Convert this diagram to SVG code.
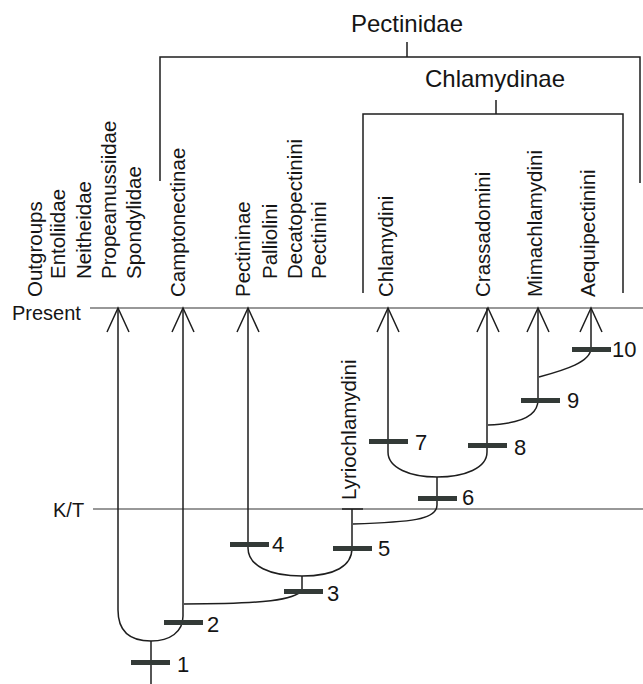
<svg xmlns="http://www.w3.org/2000/svg" width="643" height="684" viewBox="0 0 643 684">
<style>
text{font-family:"Liberation Sans",Arial,sans-serif;fill:#151515}
.lab{font-size:20.5px}
.big{font-size:24px}
.num{font-size:22px}
.ln{fill:none;stroke:#1e1e1e;stroke-width:1.5}
.thin{fill:none;stroke:#333;stroke-width:1.1}
.bar{fill:#333a37}
</style>
<rect width="643" height="684" fill="#fff"/>
<!-- time lines -->
<g id="timescale">
<text x="12" y="320" class="lab" style="font-size:20px">Present</text>
<path class="thin" d="M90 308H643"/>
<text x="53" y="517" class="lab" style="font-size:20px">K/T</text>
<path class="thin" d="M93 509H643"/>
</g>
<!-- clade brackets -->
<g id="pectinidae">
<text x="407" y="32" class="big" text-anchor="middle">Pectinidae</text>
<path class="ln" d="M407 42V57M160 181V57H640V183"/>
</g>
<g id="chlamydinae">
<text x="495" y="87" class="big" text-anchor="middle">Chlamydinae</text>
<path class="ln" d="M496 100V114M363 293V114H623V293"/>
</g>
<!-- taxon labels -->
<g id="outgroups" class="lab">
<text transform="translate(42 297) rotate(-90)">Outgroups</text>
<text transform="translate(65 279) rotate(-90)">Entoliidae</text>
<text transform="translate(91 279) rotate(-90)">Neitheidae</text>
<text transform="translate(116 279) rotate(-90)">Propeamussiidae</text>
<text transform="translate(141 279) rotate(-90)">Spondylidae</text>
</g>
<g id="camptonectinae" class="lab">
<text transform="translate(185 297) rotate(-90)">Camptonectinae</text>
</g>
<g id="pectininae" class="lab">
<text transform="translate(250 297) rotate(-90)">Pectininae</text>
<text transform="translate(277 279) rotate(-90)">Palliolini</text>
<text transform="translate(302 279) rotate(-90)">Decatopectinini</text>
<text transform="translate(326 279) rotate(-90)">Pectinini</text>
</g>
<g id="chlamydini" class="lab"><text transform="translate(393 297) rotate(-90)">Chlamydini</text></g>
<g id="crassadomini" class="lab"><text transform="translate(490 297) rotate(-90)">Crassadomini</text></g>
<g id="mimachlamydini" class="lab"><text transform="translate(542 297) rotate(-90)">Mimachlamydini</text></g>
<g id="aequipectinini" class="lab"><text transform="translate(595 297) rotate(-90)">Aequipectinini</text></g>
<g id="lyriochlamydini" class="lab"><text transform="translate(356 500) rotate(-90)">Lyriochlamydini</text></g>
<!-- connectors -->
<g id="connectors" class="ln">
<path d="M118 308V610C118 630 128 641 151 641C170 641 183 632 183 616V308"/>
<path d="M151 641V684"/>
<path d="M302 576V590C295 600 265 604 184 604"/>
<path d="M248 308V548C248 566 270 576 302 576C335 576 352 566 352 548V509M342 509H363"/>
<path d="M353 524C410 522 437 520 437 505V477"/>
<path d="M388 308V452C388 468 410 477 437 477C465 477 487 468 487 452V308"/>
<path d="M538 308V400C538 418 515 424 488 425"/>
<path d="M539 377C565 370 591 362 591 348V308"/>
<path d="M107 332L118 308L129 332M172 332L183 308L194 332M237 332L248 308L259 332M377 332L388 308L399 332M477 332L488 308L499 332M527 332L538 308L549 332M580 332L591 308L602 332"/>
</g>
<!-- synapomorphy nodes -->
<g id="node1"><rect class="bar" x="131" y="660" width="39" height="5"/><text class="num" x="177" y="672">1</text></g>
<g id="node2"><rect class="bar" x="164" y="620" width="39" height="5"/><text class="num" x="207" y="632">2</text></g>
<g id="node3"><rect class="bar" x="284" y="589" width="39" height="5"/><text class="num" x="327" y="601">3</text></g>
<g id="node4"><rect class="bar" x="230" y="542" width="39" height="5"/><text class="num" x="272" y="552">4</text></g>
<g id="node5"><rect class="bar" x="333" y="546" width="39" height="5"/><text class="num" x="378" y="556">5</text></g>
<g id="node6"><rect class="bar" x="418" y="496" width="39" height="5"/><text class="num" x="462" y="505">6</text></g>
<g id="node7"><rect class="bar" x="369" y="439" width="39" height="5"/><text class="num" x="415" y="450">7</text></g>
<g id="node8"><rect class="bar" x="468" y="443" width="39" height="5"/><text class="num" x="514" y="455">8</text></g>
<g id="node9"><rect class="bar" x="521" y="398" width="39" height="5"/><text class="num" x="567" y="408">9</text></g>
<g id="node10"><rect class="bar" x="572" y="347" width="39" height="5"/><text class="num" x="612" y="357">10</text></g>
</svg>
